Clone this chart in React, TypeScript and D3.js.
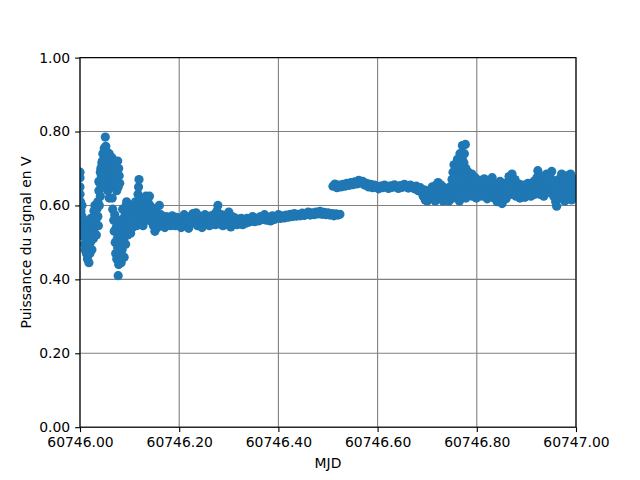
import { useRef, useEffect } from 'react';
import * as d3 from 'd3';

// MJD offsets from 60746 and signal power (V) in chunks
const startBurst: [number, number][] = [
  [0.000, 0.690], [0.000, 0.675], [0.000, 0.650], [0.000, 0.630], [0.001, 0.610], [0.002, 0.585],
  [0.002, 0.560], [0.004, 0.600], [0.004, 0.570], [0.005, 0.545], [0.006, 0.530], [0.008, 0.560],
  [0.008, 0.515], [0.009, 0.495], [0.010, 0.480], [0.012, 0.540], [0.012, 0.500], [0.013, 0.470],
  [0.015, 0.455], [0.016, 0.520], [0.017, 0.485], [0.018, 0.445], [0.020, 0.470], [0.020, 0.550],
  [0.021, 0.500], [0.022, 0.565], [0.024, 0.530], [0.024, 0.480], [0.026, 0.555], [0.027, 0.510],
  [0.028, 0.585], [0.030, 0.540], [0.030, 0.600], [0.032, 0.560], [0.033, 0.520], [0.034, 0.590],
  [0.036, 0.570], [0.037, 0.545],
];

const spikeHigh: [number, number][] = [
  [0.036, 0.610], [0.038, 0.640], [0.038, 0.665], [0.039, 0.600], [0.040, 0.660], [0.041, 0.625],
  [0.041, 0.690], [0.042, 0.700], [0.043, 0.680], [0.044, 0.650], [0.044, 0.715], [0.045, 0.720],
  [0.046, 0.740], [0.047, 0.700], [0.047, 0.650], [0.048, 0.670], [0.049, 0.755], [0.050, 0.730],
  [0.050, 0.690], [0.051, 0.785], [0.052, 0.760], [0.053, 0.710], [0.053, 0.650], [0.054, 0.745],
  [0.055, 0.690], [0.056, 0.725], [0.056, 0.640], [0.057, 0.660], [0.058, 0.700], [0.059, 0.740],
  [0.059, 0.620], [0.060, 0.680], [0.061, 0.720], [0.062, 0.650], [0.062, 0.700], [0.063, 0.700],
  [0.064, 0.730], [0.065, 0.620], [0.066, 0.680], [0.067, 0.710], [0.068, 0.660], [0.069, 0.690],
  [0.070, 0.650], [0.071, 0.720], [0.072, 0.690], [0.073, 0.670], [0.074, 0.640], [0.075, 0.700],
  [0.076, 0.720], [0.077, 0.650], [0.078, 0.700], [0.079, 0.680], [0.080, 0.660],
];

const spikeLow: [number, number][] = [
  [0.066, 0.590], [0.068, 0.560], [0.069, 0.530], [0.070, 0.575], [0.071, 0.500], [0.072, 0.470],
  [0.073, 0.540], [0.074, 0.455], [0.075, 0.510], [0.076, 0.485], [0.077, 0.410], [0.078, 0.440],
  [0.079, 0.530], [0.080, 0.465], [0.081, 0.500], [0.082, 0.560], [0.083, 0.445], [0.084, 0.520],
  [0.085, 0.480], [0.086, 0.590], [0.087, 0.545], [0.088, 0.505], [0.089, 0.460], [0.090, 0.570],
  [0.091, 0.530], [0.092, 0.495], [0.093, 0.600], [0.094, 0.550], [0.095, 0.520], [0.096, 0.575],
];

const settling: [number, number][] = [
  [0.092, 0.540], [0.094, 0.610], [0.096, 0.520], [0.098, 0.580], [0.100, 0.550], [0.102, 0.525],
  [0.103, 0.600], [0.105, 0.565], [0.106, 0.540], [0.108, 0.590], [0.110, 0.555], [0.112, 0.610],
  [0.113, 0.575], [0.114, 0.545], [0.116, 0.600], [0.117, 0.630], [0.118, 0.650], [0.119, 0.670],
  [0.120, 0.620], [0.121, 0.585], [0.122, 0.555], [0.124, 0.600], [0.125, 0.570], [0.127, 0.545],
  [0.128, 0.590], [0.130, 0.610], [0.131, 0.565], [0.133, 0.625], [0.134, 0.590], [0.135, 0.560],
  [0.137, 0.610], [0.138, 0.580], [0.140, 0.625], [0.141, 0.600], [0.142, 0.570], [0.144, 0.595],
  [0.145, 0.555], [0.147, 0.580], [0.148, 0.545], [0.150, 0.570], [0.151, 0.530], [0.153, 0.590],
  [0.154, 0.560], [0.156, 0.540], [0.157, 0.575], [0.159, 0.555], [0.160, 0.600], [0.161, 0.545],
];

const lowBand: [number, number][] = [
  [0.163, 0.575], [0.165, 0.548], [0.168, 0.560], [0.171, 0.540], [0.174, 0.570], [0.177, 0.552],
  [0.180, 0.565], [0.183, 0.545], [0.186, 0.572], [0.189, 0.555], [0.192, 0.545], [0.195, 0.568],
  [0.198, 0.550], [0.201, 0.560], [0.204, 0.540], [0.207, 0.558], [0.210, 0.575], [0.213, 0.545],
  [0.216, 0.562], [0.219, 0.538], [0.222, 0.570], [0.225, 0.552], [0.228, 0.578], [0.231, 0.560],
  [0.234, 0.580], [0.237, 0.545], [0.240, 0.572], [0.243, 0.555], [0.246, 0.540], [0.249, 0.565],
  [0.252, 0.575], [0.255, 0.550], [0.258, 0.568], [0.261, 0.545], [0.264, 0.572], [0.267, 0.558],
  [0.270, 0.575], [0.273, 0.548], [0.276, 0.585], [0.278, 0.600], [0.280, 0.570], [0.282, 0.550],
  [0.285, 0.575], [0.288, 0.545], [0.291, 0.562], [0.294, 0.548], [0.297, 0.575], [0.300, 0.582],
  [0.302, 0.560], [0.304, 0.542], [0.307, 0.570], [0.310, 0.555], [0.313, 0.566], [0.316, 0.548],
  [0.319, 0.562], [0.322, 0.550], [0.325, 0.565], [0.328, 0.548], [0.331, 0.560], [0.334, 0.552],
  [0.337, 0.565], [0.341, 0.555],
];

const slowRise: [number, number][] = [
  [0.344, 0.560], [0.348, 0.570], [0.352, 0.556], [0.356, 0.565], [0.360, 0.558], [0.364, 0.570],
  [0.368, 0.562], [0.372, 0.575], [0.376, 0.560], [0.380, 0.568], [0.384, 0.558], [0.388, 0.572],
  [0.392, 0.562], [0.396, 0.568], [0.400, 0.575], [0.404, 0.565], [0.408, 0.572], [0.412, 0.566],
  [0.416, 0.574], [0.420, 0.568], [0.424, 0.576], [0.428, 0.570], [0.432, 0.578], [0.436, 0.571],
  [0.440, 0.576], [0.444, 0.572], [0.448, 0.579], [0.452, 0.573], [0.456, 0.577], [0.460, 0.582],
  [0.464, 0.574], [0.468, 0.580], [0.472, 0.575], [0.476, 0.582], [0.480, 0.577], [0.484, 0.584],
  [0.488, 0.576], [0.492, 0.581], [0.496, 0.575], [0.500, 0.580], [0.504, 0.574], [0.508, 0.578],
  [0.512, 0.572], [0.516, 0.577], [0.520, 0.574], [0.524, 0.576],
];

const highPlateau: [number, number][] = [
  [0.510, 0.652], [0.514, 0.658], [0.518, 0.648], [0.522, 0.655], [0.526, 0.650], [0.530, 0.657],
  [0.534, 0.652], [0.538, 0.660], [0.542, 0.654], [0.546, 0.662], [0.550, 0.656], [0.554, 0.664],
  [0.558, 0.658], [0.562, 0.668], [0.566, 0.660], [0.570, 0.665], [0.574, 0.655], [0.578, 0.660],
  [0.582, 0.650], [0.586, 0.657], [0.590, 0.648], [0.594, 0.655], [0.598, 0.650], [0.602, 0.645],
  [0.606, 0.652], [0.610, 0.648], [0.614, 0.655], [0.618, 0.650], [0.622, 0.646], [0.626, 0.653],
  [0.630, 0.649], [0.634, 0.656], [0.638, 0.650], [0.642, 0.646], [0.646, 0.654], [0.650, 0.649],
  [0.654, 0.657], [0.658, 0.651], [0.662, 0.647], [0.666, 0.655], [0.670, 0.650], [0.674, 0.645],
  [0.678, 0.652], [0.682, 0.640],
];

const lateSpike: [number, number][] = [
  [0.686, 0.648], [0.689, 0.635], [0.692, 0.625], [0.694, 0.642], [0.696, 0.615], [0.698, 0.630],
  [0.700, 0.612], [0.702, 0.625], [0.704, 0.640], [0.706, 0.618], [0.708, 0.632], [0.710, 0.650],
  [0.712, 0.625], [0.714, 0.640], [0.716, 0.612], [0.718, 0.655], [0.720, 0.630], [0.722, 0.662],
  [0.724, 0.645], [0.726, 0.620], [0.728, 0.655], [0.730, 0.635], [0.732, 0.612], [0.734, 0.648],
  [0.736, 0.628], [0.738, 0.640], [0.740, 0.618], [0.742, 0.632], [0.744, 0.612], [0.746, 0.650],
  [0.748, 0.630], [0.750, 0.670], [0.750, 0.640], [0.752, 0.690], [0.752, 0.620], [0.753, 0.645],
  [0.754, 0.710], [0.755, 0.655], [0.756, 0.680], [0.757, 0.625], [0.758, 0.700], [0.759, 0.635],
  [0.760, 0.660], [0.761, 0.725], [0.762, 0.640], [0.763, 0.670], [0.764, 0.690], [0.765, 0.612],
  [0.766, 0.740], [0.767, 0.690], [0.768, 0.705], [0.768, 0.640], [0.769, 0.655], [0.770, 0.730],
  [0.771, 0.762], [0.772, 0.680], [0.772, 0.720], [0.773, 0.630], [0.774, 0.715], [0.775, 0.740],
  [0.776, 0.660], [0.777, 0.765], [0.777, 0.695], [0.778, 0.620], [0.778, 0.700], [0.780, 0.675],
  [0.780, 0.650], [0.782, 0.645], [0.783, 0.690], [0.784, 0.668], [0.786, 0.640],
];

const noisyTail: [number, number][] = [
  [0.788, 0.650], [0.790, 0.685], [0.791, 0.625], [0.793, 0.665], [0.795, 0.640], [0.797, 0.675],
  [0.799, 0.620], [0.801, 0.655], [0.803, 0.635], [0.805, 0.668], [0.807, 0.645], [0.809, 0.625],
  [0.811, 0.660], [0.813, 0.640], [0.815, 0.672], [0.817, 0.630], [0.819, 0.652], [0.821, 0.618],
  [0.823, 0.645], [0.825, 0.665], [0.827, 0.632], [0.829, 0.655], [0.831, 0.675], [0.833, 0.640],
  [0.835, 0.620], [0.837, 0.658], [0.839, 0.635], [0.841, 0.610], [0.843, 0.648], [0.845, 0.628],
  [0.847, 0.665], [0.849, 0.640], [0.851, 0.605], [0.853, 0.655], [0.855, 0.625], [0.857, 0.645],
  [0.859, 0.618], [0.861, 0.662], [0.863, 0.640], [0.865, 0.678], [0.867, 0.650], [0.869, 0.630],
  [0.871, 0.685], [0.873, 0.660], [0.875, 0.640], [0.877, 0.670], [0.879, 0.625], [0.881, 0.650],
  [0.883, 0.632], [0.885, 0.658], [0.887, 0.620], [0.889, 0.645], [0.891, 0.630], [0.893, 0.655],
  [0.895, 0.638], [0.897, 0.622], [0.899, 0.650], [0.901, 0.635], [0.903, 0.660], [0.905, 0.628],
  [0.907, 0.648], [0.909, 0.625], [0.911, 0.655], [0.913, 0.640], [0.915, 0.665], [0.917, 0.630],
  [0.919, 0.650], [0.921, 0.675], [0.923, 0.694], [0.925, 0.655], [0.927, 0.630], [0.929, 0.680],
  [0.931, 0.645], [0.933, 0.665], [0.935, 0.625], [0.937, 0.672], [0.939, 0.650], [0.941, 0.685],
  [0.943, 0.635], [0.945, 0.660], [0.947, 0.680], [0.949, 0.645], [0.951, 0.692], [0.953, 0.668],
  [0.955, 0.625], [0.957, 0.650], [0.959, 0.610], [0.961, 0.598], [0.963, 0.640], [0.965, 0.670],
  [0.967, 0.620], [0.969, 0.655], [0.971, 0.685], [0.973, 0.630], [0.975, 0.665], [0.977, 0.612],
  [0.979, 0.645], [0.981, 0.680], [0.983, 0.625], [0.985, 0.660], [0.987, 0.640], [0.989, 0.685],
  [0.991, 0.615], [0.993, 0.650], [0.995, 0.672], [0.997, 0.630], [0.999, 0.660], [1.000, 0.620],
];

const MJD_BASE = 60746;
const xTicks = [60746.0, 60746.2, 60746.4, 60746.6, 60746.8, 60747.0];
const yTicks = [0, 0.2, 0.4, 0.6, 0.8, 1.0];

export default function App() {
  const svgRef = useRef<SVGSVGElement>(null);

  useEffect(() => {
    if (!svgRef.current) return;
    const svg = d3.select(svgRef.current);
    svg.selectAll('*').remove();

    const width = 640;
    const height = 480;
    const margin = { top: 57.6, right: 64, bottom: 52.8, left: 80 };
    const innerW = width - margin.left - margin.right;
    const innerH = height - margin.top - margin.bottom;
    const font = 'DejaVu Sans';

    const x = d3.scaleLinear().domain([60746, 60747]).range([0, innerW]);
    const y = d3.scaleLinear().domain([0, 1]).range([innerH, 0]);

    svg.append('rect').attr('width', width).attr('height', height).attr('fill', '#fff');

    const defs = svg.append('defs');
    defs.append('clipPath').attr('id', 'plot-clip')
      .append('rect').attr('width', innerW).attr('height', innerH);

    const g = svg.append('g').attr('transform', `translate(${margin.left},${margin.top})`);

    // grid below the points
    g.selectAll('line.gx').data(xTicks).join('line')
      .attr('x1', d => x(d)).attr('x2', d => x(d))
      .attr('y1', 0).attr('y2', innerH)
      .attr('stroke', '#808080').attr('stroke-width', 1.1);
    g.selectAll('line.gy').data(yTicks).join('line')
      .attr('y1', d => y(d)).attr('y2', d => y(d))
      .attr('x1', 0).attr('x2', innerW)
      .attr('stroke', '#808080').attr('stroke-width', 1.1);

    const points = [
      ...startBurst, ...spikeHigh, ...spikeLow, ...settling, ...lowBand,
      ...slowRise, ...highPlateau, ...lateSpike, ...noisyTail,
    ];

    g.append('g').attr('clip-path', 'url(#plot-clip)')
      .selectAll('circle').data(points).join('circle')
      .attr('cx', d => x(MJD_BASE + d[0]))
      .attr('cy', d => y(d[1]))
      .attr('r', 4.6)
      .attr('fill', '#1f77b4');

    // axes
    const xAxis = g.append('g').attr('transform', `translate(0,${innerH})`)
      .call(d3.axisBottom(x).tickValues(xTicks).tickFormat(d3.format('.2f')).tickSizeOuter(0).tickSize(4.9).tickPadding(4.9));
    const yAxis = g.append('g')
      .call(d3.axisLeft(y).tickValues(yTicks).tickFormat(d3.format('.2f')).tickSizeOuter(0).tickSize(4.9).tickPadding(4.9));
    [xAxis, yAxis].forEach(a => {
      a.select('.domain').remove();
      a.selectAll('line').attr('stroke', '#000').attr('stroke-width', 1.1);
      a.selectAll('text').attr('font-family', font).attr('font-size', 13.9).attr('fill', '#000');
    });

    // spines
    g.append('rect').attr('width', innerW).attr('height', innerH)
      .attr('fill', 'none').attr('stroke', '#000').attr('stroke-width', 1.1);

    svg.append('text')
      .attr('x', margin.left + innerW / 2).attr('y', 468)
      .attr('text-anchor', 'middle')
      .attr('font-family', font).attr('font-size', 13.9)
      .text('MJD');

    svg.append('text')
      .attr('transform', `translate(31,${margin.top + innerH / 2}) rotate(-90)`)
      .attr('text-anchor', 'middle')
      .attr('font-family', font).attr('font-size', 13.9)
      .text('Puissance du signal en V');
  }, []);

  return (
    <svg ref={svgRef} width={640} height={480}
      style={{ position: 'absolute', left: 0, top: 0, display: 'block' }} />
  );
}
